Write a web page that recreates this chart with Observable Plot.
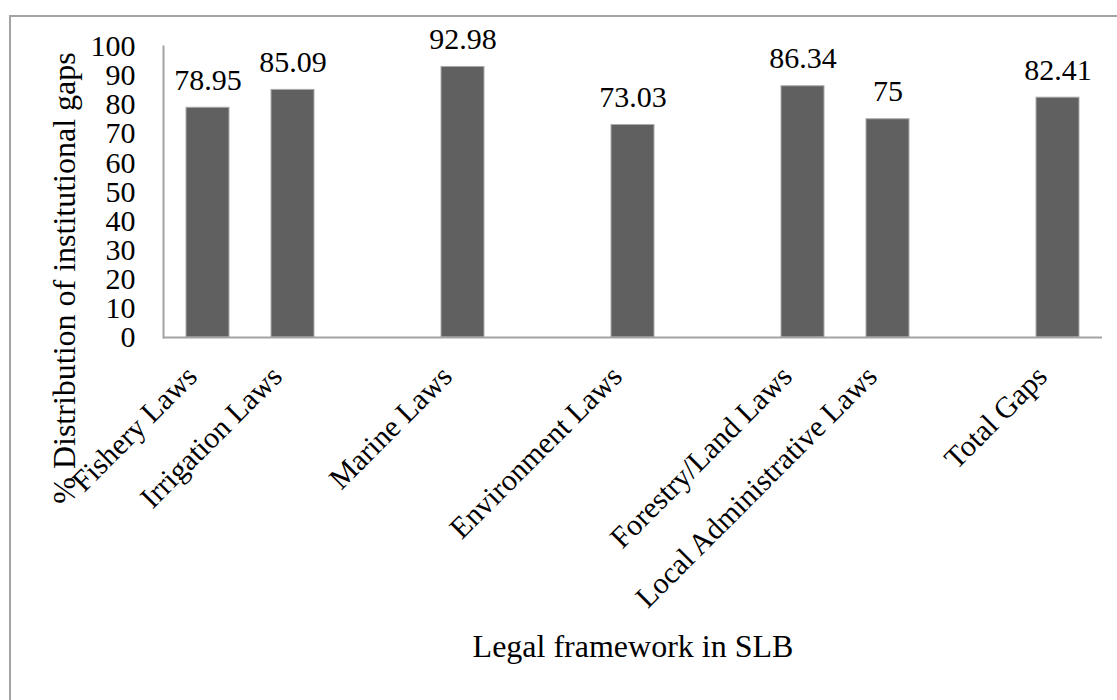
<!DOCTYPE html>
<html>
<head>
<meta charset="utf-8">
<script src="https://cdn.jsdelivr.net/npm/d3@7"></script>
<script src="https://cdn.jsdelivr.net/npm/@observablehq/plot@0.6"></script>
<style>
  html, body { margin: 0; padding: 0; background: #fff; }
  #chart { position: relative; width: 1117px; height: 700px; overflow: hidden; }
  #chart .edge {
    position: absolute; left: 9px; top: 15px; right: -10px; bottom: -10px;
    border-top: 2px solid #a3a3a3; border-left: 2px solid #a3a3a3;
  }
  #chart svg { position: absolute; left: 0; top: 0; }
</style>
</head>
<body>
<div id="chart"><div class="edge"></div></div>
<script>
// Legal frameworks along the x axis; empty strings are spacer slots between groups.
const categories = [
  "Fishery Laws", "Irrigation Laws", "", "Marine Laws", "", "Environment Laws", "",
  "Forestry/Land Laws", "Local Administrative Laws", "", "Total Gaps"
];
// % distribution of institutional gaps for each framework (null for spacer slots).
const gaps = [78.95, 85.09, null, 92.98, null, 73.03, null, 86.34, 75, null, 82.41];
const yTicks = [0, 10, 20, 30, 40, 50, 60, 70, 80, 90, 100];
const xTitle = "Legal framework in SLB";
const yTitle = "% Distribution of institutional gaps";

const slots = categories.map((_, i) => i);
const bars = categories
  .map((category, i) => ({slot: i, category, value: gaps[i]}))
  .filter(d => d.value != null);

const serif = "'Liberation Serif', 'Times New Roman', Times, serif";

const chart = Plot.plot({
  width: 1117,
  height: 700,
  marginLeft: 163,
  marginRight: 15,
  marginTop: 46,
  marginBottom: 363,
  style: {fontFamily: serif, fontSize: "30px", color: "#000", background: "transparent", overflow: "visible"},
  x: {type: "band", domain: slots, paddingInner: 0.5, paddingOuter: 0.25, axis: null},
  y: {domain: [0, 100]},
  marks: [
    Plot.axisY({ticks: yTicks, tickSize: 0, tickPadding: 28, fontSize: 30, label: null, fill: "#000"}),
    Plot.barY(bars, {x: "slot", y: "value", fill: "#606060", stroke: "#ababab", strokeWidth: 1}),
    Plot.ruleY([0], {stroke: "#a3a3a3", strokeWidth: 2}),
    Plot.frame({anchor: "left", stroke: "#a3a3a3", strokeWidth: 2}),
    // value labels above each bar
    Plot.text(bars, {x: "slot", y: "value", text: d => String(d.value), lineAnchor: "bottom", dy: -18, fontSize: 30, fill: "#000"}),
    // slanted category labels under the axis
    Plot.text(bars, {
      x: "slot", text: "category", frameAnchor: "bottom", rotate: -45,
      textAnchor: "end", lineAnchor: "middle", dx: -16, dy: 34, fontSize: 30, fill: "#000"
    }),
    // axis titles
    Plot.text([yTitle], {
      text: d => d, frameAnchor: "left", rotate: -90, textAnchor: "middle",
      dx: -99, dy: 86, fontSize: 32, lineAnchor: "middle", fill: "#000"
    }),
    Plot.text([xTitle], {text: d => d, frameAnchor: "bottom", textAnchor: "middle", dy: 309, fontSize: 32, lineAnchor: "middle", fill: "#000"})
  ]
});

document.getElementById("chart").appendChild(chart);
</script>
</body>
</html>
